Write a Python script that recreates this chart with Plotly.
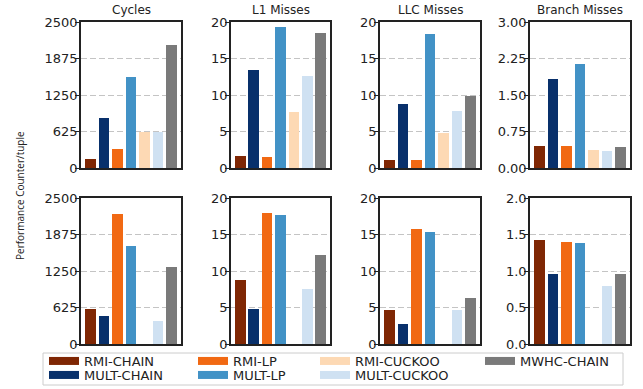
import plotly.graph_objects as go

W, H = 643, 389

methods = ["RMI-CHAIN", "MULT-CHAIN", "RMI-LP", "MULT-LP", "RMI-CUCKOO", "MULT-CUCKOO", "MWHC-CHAIN"]
colors = ["#7f2704", "#08306b", "#f16913", "#4292c6", "#fdd9b4", "#cfe1f2", "#7a7a7a"]

titles = ["Cycles", "L1 Misses", "LLC Misses", "Branch Misses"]

# top row
top_cycles = [159, 858, 330, 1557, 625, 622, 2102]
top_l1 = [1.68, 13.4, 1.55, 19.27, 7.68, 12.6, 18.45]
top_llc = [1.14, 8.77, 1.14, 18.3, 4.82, 7.82, 9.86]
top_branch = [0.457, 1.827, 0.457, 2.134, 0.375, 0.355, 0.436]
# bottom row
bot_cycles = [602, 483, 2222, 1676, None, 398, 1318]
bot_l1 = [8.77, 4.82, 17.9, 17.64, None, 7.55, 12.18]
bot_llc = [4.68, 2.77, 15.73, 15.32, None, 4.68, 6.32]
bot_branch = [1.423, 0.959, 1.395, 1.382, None, 0.795, 0.959]

top_ticks = [[0, 625, 1250, 1875, 2500], [0, 5, 10, 15, 20], [0, 5, 10, 15, 20], [0, 0.75, 1.5, 2.25, 3.0]]
top_labels = [["0", "625", "1250", "1875", "2500"], ["0", "5", "10", "15", "20"],
              ["0", "5", "10", "15", "20"], ["0.00", "0.75", "1.50", "2.25", "3.00"]]
bot_ticks = [[0, 625, 1250, 1875, 2500], [0, 5, 10, 15, 20], [0, 5, 10, 15, 20], [0, 0.5, 1.0, 1.5, 2.0]]
bot_labels = [["0", "625", "1250", "1875", "2500"], ["0", "5", "10", "15", "20"],
              ["0", "5", "10", "15", "20"], ["0.0", "0.5", "1.0", "1.5", "2.0"]]

rows = [
    ([top_cycles, top_l1, top_llc, top_branch], top_ticks, top_labels),
    ([bot_cycles, bot_l1, bot_llc, bot_branch], bot_ticks, bot_labels),
]

col_px = [(81, 181), (231, 330), (380, 480), (530, 630)]
row_px = [(22, 168), (198, 344)]


def px(xp):
    return xp / W


def py(yp):
    return 1 - yp / H


fig = go.Figure()
font_fam = "DejaVu Sans"
layout = {}
idx = 0
for r, (series, row_ticks, row_labels) in enumerate(rows):
    for c in range(4):
        idx += 1
        tk, lb = row_ticks[c], row_labels[c]
        xa = "x" if idx == 1 else f"x{idx}"
        ya = "y" if idx == 1 else f"y{idx}"
        fig.add_trace(go.Bar(
            x=list(range(len(methods))), y=series[c],
            marker=dict(color=colors, line=dict(width=0)),
            width=0.8, showlegend=False, xaxis=xa, yaxis=ya,
        ))
        x0, x1 = col_px[c]
        y0, y1 = row_px[r]
        xkey = "xaxis" if idx == 1 else f"xaxis{idx}"
        ykey = "yaxis" if idx == 1 else f"yaxis{idx}"
        layout[xkey] = dict(
            domain=[px(x0), px(x1)], anchor=ya, range=[-0.7, 6.7], autorange=False,
            showticklabels=False, ticks="", showgrid=False,
            showline=True, linecolor="#222", linewidth=1.5, mirror=True,
            zeroline=False,
        )
        layout[ykey] = dict(
            domain=[py(y1), py(y0)], anchor=xa,
            range=[tk[0], tk[-1]], autorange=False,
            tickmode="array", tickvals=tk, ticktext=lb,
            ticks="outside", ticklen=4, tickwidth=1, tickcolor="#222",
            ticklabelstandoff=-5,
            showline=True, linecolor="#222", linewidth=1.5, mirror=True,
            showgrid=True, gridcolor="#c4c4c4", gridwidth=1, griddash="6px,3px",
            zeroline=False, tickfont=dict(family=font_fam, size=13, color="#222"),
        )

# legend entries (one single-item legend each), drawn on a hidden helper axis
layout["xaxis9"] = dict(domain=[0, 0.01], anchor="y9", visible=False, range=[0, 1])
layout["yaxis9"] = dict(domain=[0, 0.01], anchor="x9", visible=False, range=[0, 1])
legend_x_px = [44, 44, 193, 193, 315, 315, 480]
legend_y_px = [361, 375, 361, 375, 361, 375, 361]
for i in range(len(methods)):
    lname = "legend" if i == 0 else f"legend{i + 1}"
    fig.add_trace(go.Scatter(
        x=[None], y=[None], mode="lines", name=methods[i],
        line=dict(color=colors[i], width=8), legend=lname,
        xaxis="x9", yaxis="y9", showlegend=True,
    ))
    layout[lname] = dict(
        x=px(legend_x_px[i]), y=py(legend_y_px[i]), xanchor="left", yanchor="middle",
        orientation="v", bgcolor="rgba(0,0,0,0)", borderwidth=0,
        font=dict(family=font_fam, size=13, color="#222"),
    )

annotations = []
for c in range(4):
    x0, x1 = col_px[c]
    annotations.append(dict(
        text=titles[c], x=px((x0 + x1) / 2), y=py(19), xref="paper", yref="paper",
        xanchor="center", yanchor="bottom", showarrow=False,
        font=dict(family=font_fam, size=12, color="#222"),
    ))
annotations.append(dict(
    text="Performance Counter/tuple", x=px(20), y=py(196), xref="paper", yref="paper",
    xanchor="center", yanchor="middle", textangle=-90, showarrow=False,
    font=dict(family="Open Sans", size=10, color="#222"),
))

shapes = [dict(
    type="rect", xref="paper", yref="paper",
    x0=px(43), x1=px(623), y0=py(385), y1=py(353),
    line=dict(color="#cccccc", width=1), fillcolor="rgba(0,0,0,0)", layer="below",
)]

fig.update_layout(
    width=W, height=H, margin=dict(l=0, r=0, t=0, b=0, autoexpand=False),
    paper_bgcolor="white", plot_bgcolor="white",
    annotations=annotations, shapes=shapes, bargap=0, **layout,
)

fig.write_html("out.html", config={"displayModeBar": False},
               post_script="document.body.style.margin='0';")
